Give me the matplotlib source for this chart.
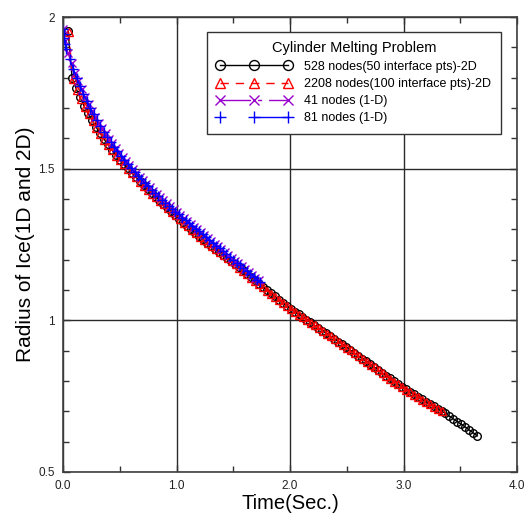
import matplotlib
matplotlib.use("Agg")
import matplotlib.pyplot as plt
from matplotlib.ticker import FixedLocator, FixedFormatter, MultipleLocator

plt.rcParams['font.family'] = ['Liberation Sans', 'DejaVu Sans']

# ---- data ----
t_528 = [0.045, 0.08, 0.115, 0.15, 0.185, 0.22, 0.255, 0.29, 0.325, 0.36, 0.395, 0.43, 0.465, 0.50,
         0.535, 0.57, 0.605, 0.64, 0.675, 0.71, 0.745, 0.78, 0.815, 0.85, 0.885, 0.92, 0.955, 0.99,
         1.025, 1.06, 1.095, 1.13, 1.165, 1.20, 1.235, 1.27, 1.305, 1.34, 1.375, 1.41, 1.445, 1.48,
         1.515, 1.55, 1.585, 1.62, 1.655, 1.69, 1.725, 1.76, 1.795, 1.83, 1.865, 1.90, 1.935, 1.97,
         2.005, 2.04, 2.075, 2.11, 2.145, 2.18, 2.215, 2.25, 2.285, 2.32, 2.355, 2.39, 2.425, 2.46,
         2.495, 2.53, 2.565, 2.60, 2.635, 2.67, 2.705, 2.74, 2.775, 2.81, 2.845, 2.88, 2.915, 2.95,
         2.985, 3.02, 3.055, 3.09, 3.125, 3.16, 3.195, 3.23, 3.265, 3.30, 3.335, 3.37, 3.405, 3.44,
         3.475, 3.51, 3.545, 3.58, 3.615, 3.65]
r_528 = [1.954, 1.800, 1.765, 1.735, 1.707, 1.682, 1.660, 1.638, 1.618, 1.598, 1.580, 1.562, 1.545, 1.530,
         1.515, 1.501, 1.487, 1.473, 1.459, 1.445, 1.432, 1.420, 1.408, 1.396, 1.384, 1.372, 1.360, 1.347,
         1.335, 1.323, 1.312, 1.300, 1.289, 1.278, 1.267, 1.256, 1.246, 1.235, 1.225, 1.215, 1.205, 1.196,
         1.186, 1.176, 1.165, 1.154, 1.143, 1.132, 1.121, 1.110, 1.100, 1.089, 1.079, 1.068, 1.058, 1.048,
         1.039, 1.029, 1.020, 1.011, 1.002, 0.993, 0.984, 0.975, 0.966, 0.957, 0.949, 0.940, 0.930, 0.921,
         0.912, 0.902, 0.893, 0.883, 0.874, 0.865, 0.855, 0.846, 0.837, 0.828, 0.818, 0.809, 0.800, 0.790,
         0.781, 0.772, 0.764, 0.756, 0.748, 0.740, 0.732, 0.724, 0.716, 0.709, 0.701, 0.693, 0.684, 0.675,
         0.666, 0.657, 0.648, 0.638, 0.629, 0.619]

t_2208 = [0.05, 0.085, 0.12, 0.155, 0.19, 0.225, 0.26, 0.295, 0.33, 0.365, 0.40, 0.435, 0.47, 0.505,
          0.54, 0.575, 0.61, 0.645, 0.68, 0.715, 0.75, 0.785, 0.82, 0.855, 0.89, 0.925, 0.96, 0.995,
          1.03, 1.065, 1.10, 1.135, 1.17, 1.205, 1.24, 1.275, 1.31, 1.345, 1.38, 1.415, 1.45, 1.485,
          1.52, 1.555, 1.59, 1.625, 1.66, 1.695, 1.73, 1.765, 1.80, 1.835, 1.87, 1.905, 1.94, 1.975,
          2.01, 2.045, 2.08, 2.115, 2.15, 2.185, 2.22, 2.255, 2.29, 2.325, 2.36, 2.395, 2.43, 2.465,
          2.50, 2.535, 2.57, 2.605, 2.64, 2.675, 2.71, 2.745, 2.78, 2.815, 2.85, 2.885, 2.92, 2.955,
          2.99, 3.025, 3.06, 3.095, 3.13, 3.165, 3.20, 3.235, 3.27, 3.305, 3.34]
r_2208 = [1.950, 1.795, 1.760, 1.731, 1.703, 1.679, 1.657, 1.635, 1.615, 1.596, 1.578, 1.560, 1.543, 1.528,
          1.514, 1.500, 1.485, 1.471, 1.457, 1.443, 1.431, 1.418, 1.406, 1.394, 1.382, 1.370, 1.358, 1.346,
          1.333, 1.322, 1.310, 1.299, 1.288, 1.276, 1.265, 1.255, 1.244, 1.234, 1.224, 1.214, 1.204, 1.194,
          1.185, 1.174, 1.163, 1.152, 1.141, 1.130, 1.119, 1.109, 1.098, 1.087, 1.077, 1.067, 1.057, 1.047,
          1.037, 1.028, 1.019, 1.010, 1.001, 0.992, 0.983, 0.974, 0.965, 0.956, 0.947, 0.938, 0.929, 0.919,
          0.910, 0.901, 0.891, 0.882, 0.872, 0.863, 0.854, 0.845, 0.835, 0.826, 0.817, 0.807, 0.798, 0.789,
          0.779, 0.771, 0.763, 0.755, 0.747, 0.739, 0.731, 0.723, 0.715, 0.707, 0.700]

t_41 = [0.000, 0.015, 0.045, 0.075, 0.105, 0.135, 0.165, 0.195, 0.225, 0.255, 0.285, 0.315, 0.345, 0.375,
        0.405, 0.435, 0.465, 0.495, 0.525, 0.555, 0.585, 0.615, 0.645, 0.675, 0.705, 0.735, 0.765, 0.795,
        0.825, 0.855, 0.885, 0.915, 0.945, 0.975, 1.005, 1.035, 1.065, 1.095, 1.125, 1.155, 1.185, 1.215,
        1.245, 1.275, 1.305, 1.335, 1.365, 1.395, 1.425, 1.455, 1.485, 1.515, 1.545, 1.575, 1.605, 1.635,
        1.665, 1.695, 1.725]
r_41 = [1.960, 1.922, 1.880, 1.847, 1.817, 1.788, 1.761, 1.736, 1.713, 1.691, 1.671, 1.652, 1.633, 1.616,
        1.599, 1.583, 1.568, 1.553, 1.538, 1.524, 1.511, 1.498, 1.485, 1.473, 1.461, 1.450, 1.439, 1.428,
        1.417, 1.406, 1.396, 1.386, 1.376, 1.366, 1.356, 1.347, 1.337, 1.328, 1.318, 1.309, 1.300, 1.290,
        1.281, 1.272, 1.262, 1.253, 1.244, 1.234, 1.225, 1.216, 1.207, 1.197, 1.188, 1.179, 1.169, 1.160,
        1.151, 1.141, 1.132]

t_81 = [0.000, 0.005, 0.010, 0.020, 0.030, 0.060, 0.090, 0.120, 0.150, 0.180, 0.210, 0.240, 0.270, 0.300,
        0.330, 0.360, 0.390, 0.420, 0.450, 0.480, 0.510, 0.540, 0.570, 0.600, 0.630, 0.660, 0.690, 0.720,
        0.750, 0.780, 0.810, 0.840, 0.870, 0.900, 0.930, 0.960, 0.990, 1.020, 1.050, 1.080, 1.110, 1.140,
        1.170, 1.200, 1.230, 1.260, 1.290, 1.320, 1.350, 1.380, 1.410, 1.440, 1.470, 1.500, 1.530, 1.560,
        1.590, 1.620, 1.650, 1.680, 1.710, 1.735]
r_81 = [1.960, 1.945, 1.930, 1.910, 1.895, 1.860, 1.830, 1.800, 1.772, 1.746, 1.722, 1.700, 1.679, 1.659,
        1.640, 1.622, 1.605, 1.589, 1.573, 1.558, 1.543, 1.529, 1.515, 1.502, 1.489, 1.477, 1.465, 1.453,
        1.442, 1.431, 1.420, 1.409, 1.398, 1.388, 1.378, 1.368, 1.358, 1.349, 1.339, 1.330, 1.321, 1.311,
        1.302, 1.293, 1.283, 1.274, 1.265, 1.255, 1.246, 1.237, 1.227, 1.218, 1.209, 1.200, 1.190, 1.181,
        1.172, 1.162, 1.153, 1.144, 1.134, 1.127]

series_labels = ["528 nodes(50 interface pts)-2D", "2208 nodes(100 interface pts)-2D",
                 "41 nodes (1-D)", "81 nodes (1-D)"]
legend_title = "Cylinder Melting Problem"
x_ticks = [0.0, 1.0, 2.0, 3.0, 4.0]
x_ticklabels = ["0.0", "1.0", "2.0", "3.0", "4.0"]
y_ticks = [0.5, 1.0, 1.5, 2.0]
y_ticklabels = ["0.5", "1", "1.5", "2"]
x_label = "Time(Sec.)"
y_label = "Radius of Ice(1D and 2D)"

# ---- figure ----
fig = plt.figure(figsize=(5.26, 5.13), dpi=100)
ax = fig.add_axes([63/526, 1-472/513, (517-63)/526, (472-17)/513])

ax.plot(t_528, r_528, color='black', lw=1.0, ls='-', marker='o', ms=5.5, mfc='none',
        mec='black', mew=1.0, label=series_labels[0])
ax.plot(t_2208, r_2208, color='#ff0000', lw=1.0, ls=(0, (6, 5)), marker='^', ms=5.5, mfc='none',
        mec='#ff0000', mew=1.0, label=series_labels[1])
ax.plot(t_41, r_41, color='#9900cc', lw=1.0, ls=(0, (22, 5, 3, 5)), marker='x', ms=6,
        mec='#9900cc', mew=1.0, label=series_labels[2])
ax.plot(t_81, r_81, color='#0000ff', lw=1.0, ls=(0, (1, 24, 40, 1)), marker='+', ms=7,
        mec='#0000ff', mew=1.0, label=series_labels[3])

ax.set_xlim(0, 4.0)
ax.set_ylim(0.5, 2.0)
ax.xaxis.set_major_locator(FixedLocator(x_ticks))
ax.xaxis.set_major_formatter(FixedFormatter(x_ticklabels))
ax.yaxis.set_major_locator(FixedLocator(y_ticks))
ax.yaxis.set_major_formatter(FixedFormatter(y_ticklabels))
ax.xaxis.set_minor_locator(MultipleLocator(0.5))
ax.yaxis.set_minor_locator(MultipleLocator(0.1))
ax.tick_params(which='both', direction='in', top=True, right=True, colors='#333333',
               labelcolor='#222222', labelsize=8.5)
ax.tick_params(which='major', length=5, width=1.0, pad=6)
ax.tick_params(which='minor', length=4, width=1.0)
for s in ax.spines.values():
    s.set_color('#404040')
    s.set_linewidth(1.2)

ax.grid(True, which='major', color='#2a2a2a', lw=1.0)
ax.set_axisbelow(True)

ax.set_xlabel(x_label, fontsize=14.5, labelpad=1)
ax.set_ylabel(y_label, fontsize=15, labelpad=2)

leg = ax.legend(loc='upper left', bbox_to_anchor=(0.317, 0.756, 0.648, 0.211), mode='expand',
                borderaxespad=0, title=legend_title, fontsize=9, title_fontsize=10.5,
                numpoints=3, handlelength=6.0, handletextpad=1.0, labelspacing=0.42,
                borderpad=0.75, fancybox=False, framealpha=1, edgecolor='#333333',
                markerscale=1.3)
leg.get_frame().set_linewidth(1.0)

fig.savefig("out.png", dpi=100)
